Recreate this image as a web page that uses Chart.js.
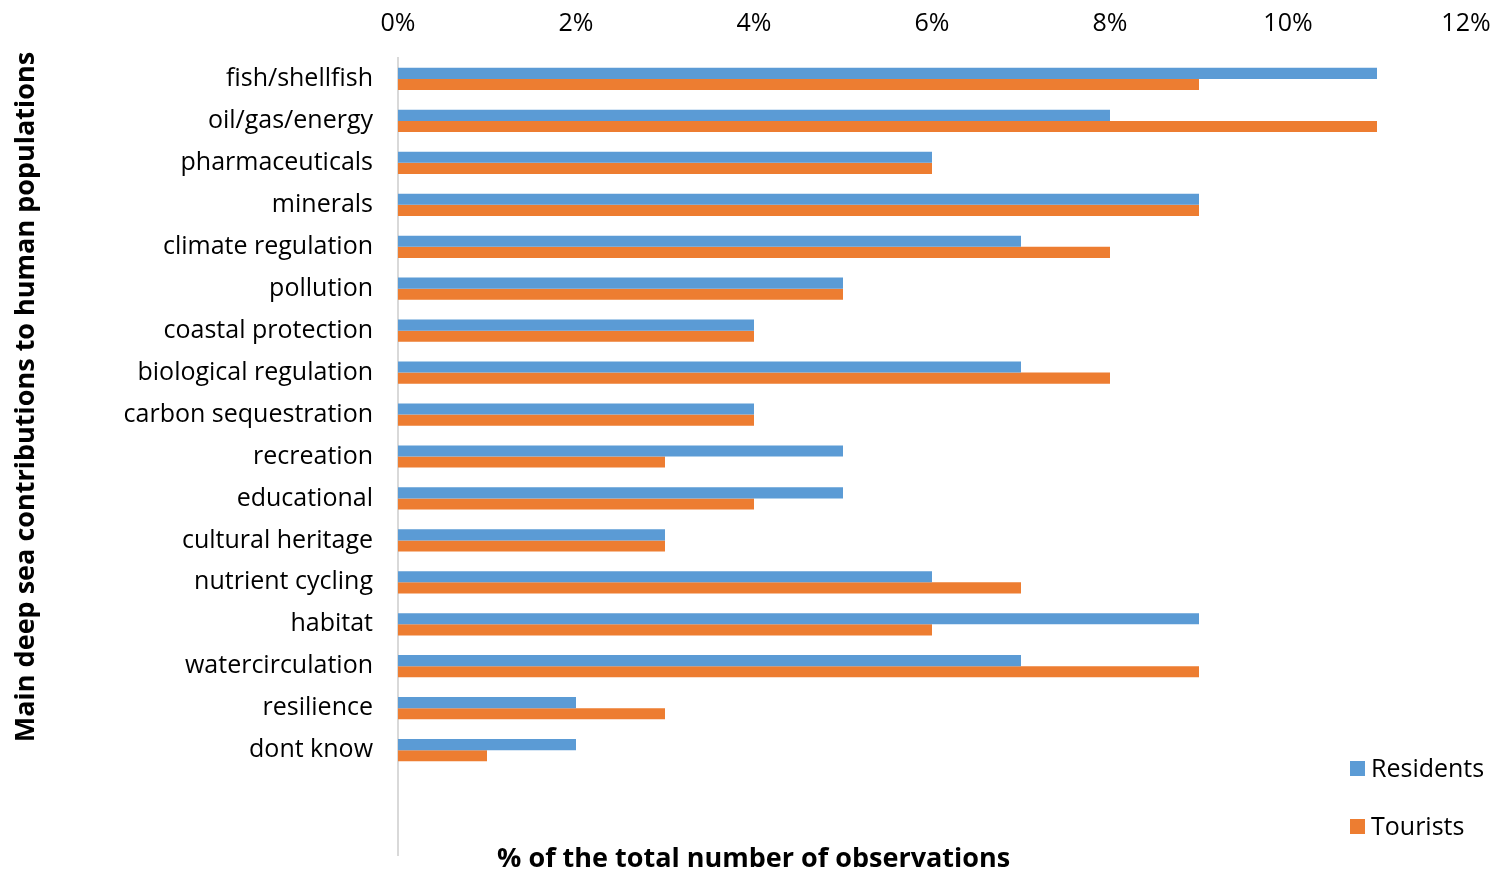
<!DOCTYPE html>
<html>
<head>
<meta charset="utf-8">
<script src="https://cdn.jsdelivr.net/npm/chart.js@4"></script>
<style>
  html, body { margin: 0; padding: 0; background: #fff; }
  #wrap { width: 1499px; height: 872px; position: relative; }
</style>
</head>
<body>
<div id="wrap"><canvas id="chart"></canvas></div>
<script>
// categories (two blank slots keep the empty band at the bottom)
const categories = [
  "fish/shellfish", "oil/gas/energy", "pharmaceuticals", "minerals",
  "climate regulation", "pollution", "coastal protection", "biological regulation",
  "carbon sequestration", "recreation", "educational", "cultural heritage",
  "nutrient cycling", "habitat", "watercirculation", "resilience", "dont know", "", ""
];
const residents = [11, 8, 6, 9, 7, 5, 4, 7, 4, 5, 5, 3, 6, 9, 7, 2, 2, null, null];
const tourists  = [9, 11, 6, 9, 8, 5, 4, 8, 4, 3, 4, 3, 7, 6, 9, 3, 1, null, null];
const xTicks = [0, 2, 4, 6, 8, 10, 12];

const FONT = "'Open Sans', Lato, sans-serif";
const BLUE = "#5B9BD5";
const ORANGE = "#ED7D31";

// legend and axis titles drawn by hand, Excel style
const extras = {
  id: "extras",
  afterDraw(chart) {
    const ctx = chart.ctx;
    const a = chart.chartArea;
    ctx.save();
    ctx.fillStyle = "#000";
    ctx.font = "bold 27px " + FONT;
    ctx.textAlign = "center";
    ctx.textBaseline = "middle";
    ctx.fillText("% of the total number of observations", a.left + a.width * 0.333, 859);

    ctx.translate(26, 397);
    ctx.rotate(-Math.PI / 2);
    ctx.fillText("Main deep sea contributions to human populations", 0, 0);
    ctx.restore();

    const items = [["Residents", BLUE, 768], ["Tourists", ORANGE, 826]];
    ctx.save();
    ctx.font = "25px " + FONT;
    ctx.textAlign = "left";
    ctx.textBaseline = "middle";
    items.forEach(([label, color, y]) => {
      ctx.fillStyle = color;
      ctx.fillRect(1350, y - 7, 15, 15);
      ctx.fillStyle = "#000";
      ctx.fillText(label, 1371, y + 2);
    });
    ctx.restore();
  }
};

new Chart(document.getElementById("chart"), {
  type: "bar",
  data: {
    labels: categories,
    datasets: [
      { label: "Residents", data: residents, backgroundColor: BLUE },
      { label: "Tourists", data: tourists, backgroundColor: ORANGE }
    ]
  },
  options: {
    indexAxis: "y",
    responsive: true,
    maintainAspectRatio: false,
    animation: false,
    categoryPercentage: 0.53,
    barPercentage: 1.0,
    layout: { padding: { left: 0, right: 33, top: 0, bottom: 17 } },
    plugins: {
      legend: { display: false },
      tooltip: { enabled: false }
    },
    scales: {
      x: {
        position: "top",
        min: 0,
        max: 12,
        afterBuildTicks(axis) {
          axis.ticks = xTicks.map(v => ({ value: v }));
        },
        afterFit(axis) {
          axis.height = 58;
          axis.paddingLeft = 0;
          axis.paddingRight = 0;
        },
        grid: { display: false },
        border: { display: false },
        ticks: {
          color: "#000",
          font: { family: FONT, size: 25 },
          padding: 11,
          callback: v => v + "%"
        }
      },
      y: {
        afterFit(axis) {
          axis.width = 398;
          // no extra room for the edge labels
          axis.paddingTop = 0;
          axis.paddingBottom = 0;
        },
        grid: { display: false },
        border: { display: true, color: "#d9d9d9", width: 2 },
        ticks: {
          color: "#000",
          font: { family: FONT, size: 25 },
          padding: 17,
          autoSkip: false
        }
      }
    }
  },
  plugins: [extras]
});
</script>
</body>
</html>
